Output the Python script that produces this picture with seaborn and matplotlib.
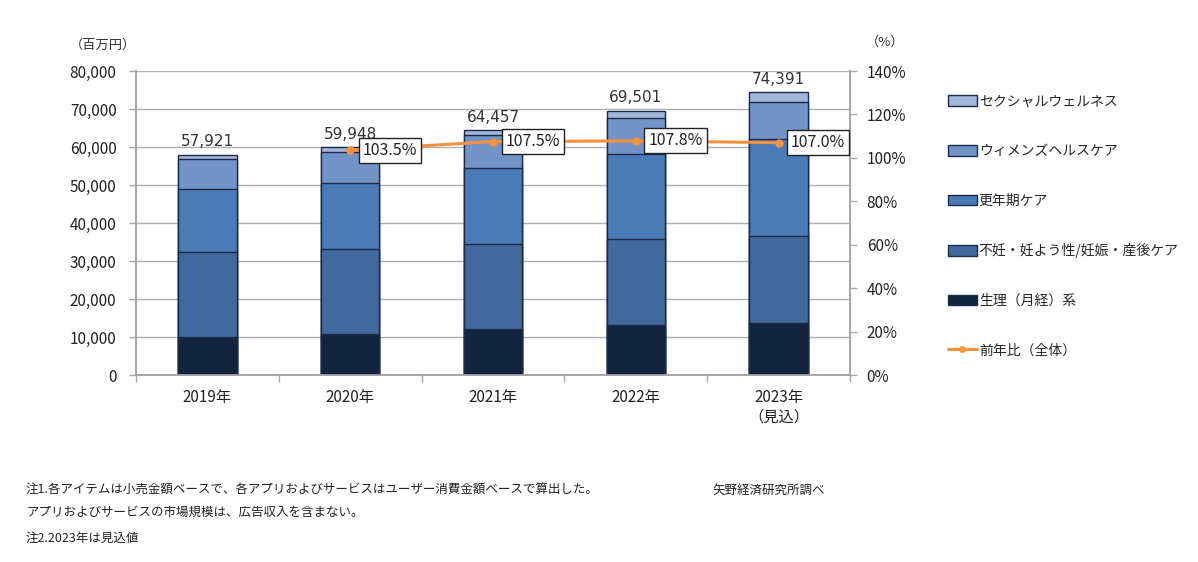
import numpy as np
import pandas as pd
import matplotlib
matplotlib.use("Agg")
import matplotlib.pyplot as plt
from matplotlib.patches import Patch
from matplotlib.lines import Line2D
import seaborn as sns

sns.set_theme(style="white")
plt.rcParams['font.family'] = ['Noto Sans CJK JP', 'DejaVu Sans']

# ---- data ----
years = ["2019年", "2020年", "2021年", "2022年", "2023年\n（見込）"]
series_names = ["生理（月経）系", "不妊・妊よう性/妊娠・産後ケア", "更年期ケア",
                "ウィメンズヘルスケア", "セクシャルウェルネス"]
seiri = [9900, 10800, 12000, 13200, 13800]
funin = [22400, 22300, 22400, 22600, 22800]
kounenki = [16600, 17300, 20000, 22400, 25600]
womens = [7900, 8400, 8800, 9400, 9600]
sexual = [1121, 1148, 1257, 1901, 2591]
totals = [57921, 59948, 64457, 69501, 74391]
yoy_years = ["2020年", "2021年", "2022年", "2023年\n（見込）"]
yoy = [103.5, 107.5, 107.8, 107.0]
yoy_labels = ["103.5%", "107.5%", "107.8%", "107.0%"]

colors = ["#13243f", "#41699d", "#4a7bb7", "#7193c7", "#a3b6db"]
line_color = "#f6913c"
edge_color = "#1a2a48"

fig = plt.figure(figsize=(11.98, 5.62), dpi=100)
ax = fig.add_axes([136/1198, 1-375/562, 714/1198, 304/562])

stack = [seiri, funin, kounenki, womens, sexual]
cum = np.cumsum(np.array(stack), axis=0)
df = pd.DataFrame({"year": years})
# draw cumulative bars from tallest down so each layer shows
for i in range(len(stack)-1, -1, -1):
    df["v"] = cum[i]
    sns.barplot(data=df, x="year", y="v", order=years, color=colors[i],
                saturation=1, width=0.41, edgecolor=edge_color, linewidth=1.0,
                ax=ax, zorder=3)

ax.set_ylim(0, 80000)
ax.set_xlim(-0.5, len(years)-0.5)
ax.set_yticks(np.arange(0, 80001, 10000))
ax.set_yticklabels([f"{v:,}" for v in range(0, 80001, 10000)])
ax.yaxis.grid(True, color="#b0b0b0", linewidth=1.0, zorder=0)
ax.set_axisbelow(True)
ax.set_xlabel("")
ax.set_ylabel("")
for s in ["left", "bottom", "right"]:
    ax.spines[s].set_color("#a6a6a6")
ax.spines["top"].set_visible(False)
ax.tick_params(axis="y", labelsize=11, colors="#a6a6a6", labelcolor="#222222",
               length=5, width=1, direction="out", left=True, pad=9)
ax.tick_params(axis="x", which="major", length=0, labelsize=11,
               labelcolor="#222222", pad=10)
ax.set_xticks(np.arange(-0.5, len(years), 1.0), minor=True)
ax.tick_params(axis="x", which="minor", length=5, color="#a6a6a6", width=1,
               bottom=True)

# totals above bars
for i, t in enumerate(totals):
    ax.annotate(f"{t:,}", (i, t), xytext=(0, 4), textcoords="offset points",
                ha="center", va="bottom", fontsize=11, color="#333333",
                family=["DejaVu Sans"], zorder=5)

# YoY line on secondary axis
ax2 = ax.twinx()
ldf = pd.DataFrame({"x": [years.index(y) for y in yoy_years], "yoy": yoy})
sns.lineplot(data=ldf, x="x", y="yoy", color=line_color, linewidth=2.2,
             marker="o", markersize=6, markeredgewidth=0, ax=ax2, zorder=4)
ax2.set_ylim(0, 140)
ax2.set_xlim(-0.5, len(years)-0.5)
ax2.set_yticks(np.arange(0, 141, 20))
ax2.set_yticklabels([f"{v}%" for v in range(0, 141, 20)])
ax2.set_ylabel("")
ax2.set_xlabel("")
for s in ["left", "bottom", "right"]:
    ax2.spines[s].set_color("#a6a6a6")
ax2.spines["top"].set_visible(False)
ax2.tick_params(axis="y", labelsize=11, colors="#a6a6a6", labelcolor="#222222",
                length=5, width=1, direction="out", right=True, pad=7)
for xi, v, lab in zip(ldf["x"], yoy, yoy_labels):
    ax2.annotate(lab, (xi, v), xytext=(9, 0), textcoords="offset points",
                 ha="left", va="center", fontsize=11.5, color="#222222",
                 bbox=dict(boxstyle="square,pad=0.25", fc="white", ec="#222222", lw=1.0),
                 zorder=6)

# axis unit labels
fig.text(70/1198, 1-45/562, "（百万円）", fontsize=9.5, color="#333333",
         ha="left", va="center")
fig.text(866/1198, 1-42/562, "（%）", fontsize=9.5, color="#333333",
         ha="left", va="center")

# legend
handles = [Patch(facecolor=colors[i], edgecolor=edge_color, linewidth=1.0)
           for i in range(len(colors)-1, -1, -1)]
labels = [series_names[i] for i in range(len(series_names)-1, -1, -1)]
handles.append(Line2D([0], [0], color=line_color, lw=2.2, marker="o",
                      markersize=5, markeredgewidth=0))
labels.append("前年比（全体）")
fig.legend(handles, labels, loc="upper left",
           bbox_to_anchor=(942/1198, 1-89/562), frameon=False, fontsize=10,
           labelspacing=2.56, handlelength=2.1, handleheight=0.8,
           handletextpad=0.15, borderaxespad=0)

# footnotes
fig.text(26/1198, 1-490/562,
         "注1.各アイテムは小売金額ベースで、各アプリおよびサービスはユーザー消費金額ベースで算出した。",
         fontsize=9, color="#222222", ha="left", va="center")
fig.text(26/1198, 1-512/562, "アプリおよびサービスの市場規模は、広告収入を含まない。",
         fontsize=9, color="#222222", ha="left", va="center")
fig.text(26/1198, 1-538/562, "注2.2023年は見込値",
         fontsize=9, color="#222222", ha="left", va="center")
fig.text(712/1198, 1-490/562, "矢野経済研究所調べ",
         fontsize=9, color="#222222", ha="left", va="center")

fig.savefig("out.png", dpi=100)
